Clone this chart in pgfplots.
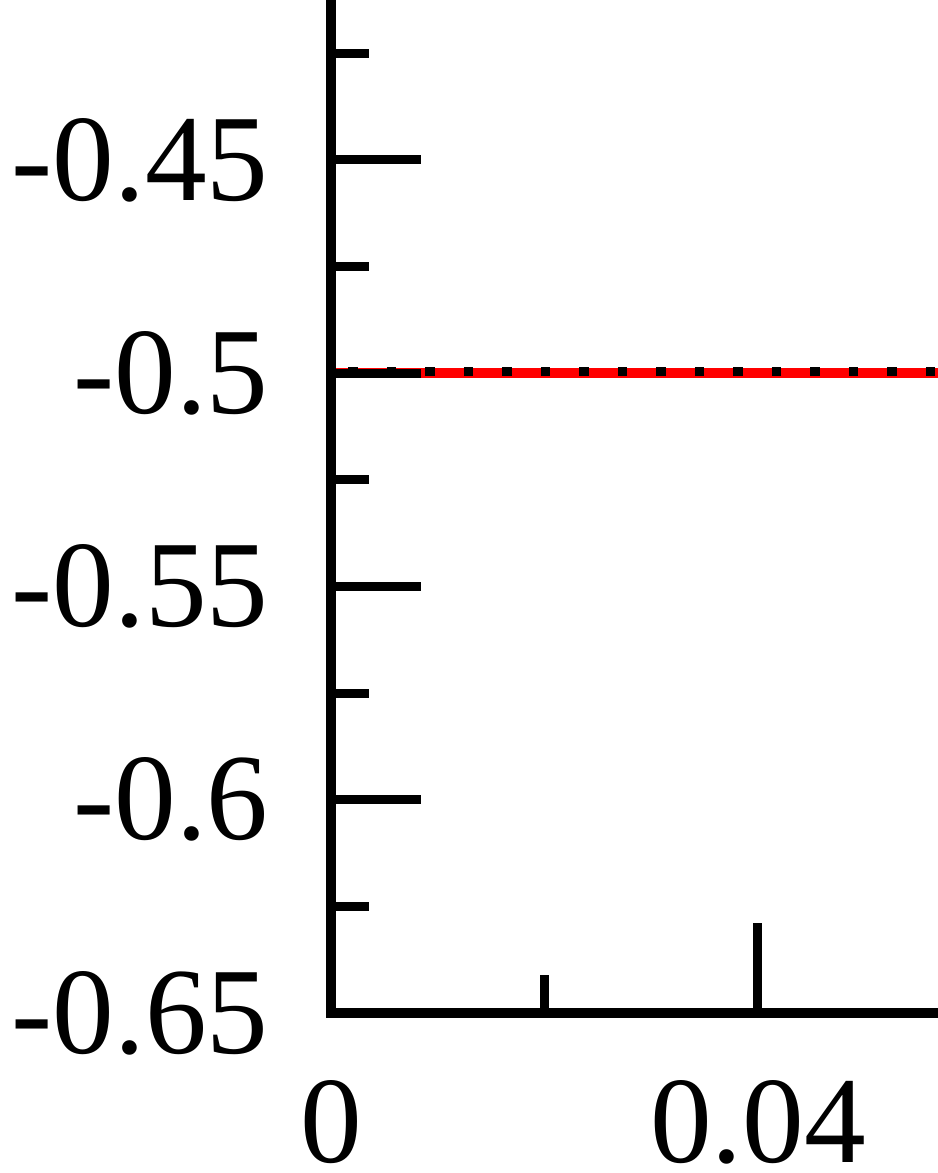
\documentclass[border=0pt]{standalone}
\usepackage{pgfplots}
\pgfplotsset{compat=1.18}
\usepackage{fontspec}
\setmainfont{Liberation Serif}
\begin{document}
\begin{tikzpicture}
\begin{axis}[
  at={(0,0)}, anchor=south west,
  scale only axis,
  width=256.2pt, height=319.9pt,
  xmin=0, xmax=0.08, ymin=-0.65, ymax=-0.4,
  axis on top,
  tick pos=left,
  tick align=inside,
  axis line style={line width=3pt},
  every tick/.style={black, line width=2.7pt},
  major tick length=27pt,
  minor tick length=11.4pt,
  xtick={0,0.04}, xticklabels={0,0.04},
  minor xtick={0.02,0.06},
  ytick={-0.65,-0.6,-0.55,-0.5,-0.45},
  yticklabels={-0.65,-0.6,-0.55,-0.5,-0.45},
  minor ytick={-0.625,-0.575,-0.525,-0.475,-0.425},
  ticklabel style={font=\fontsize{37}{39}\selectfont, inner sep=0pt},
  yticklabel style={anchor=east, xshift=-18.5pt},
  xticklabel style={anchor=north, yshift=-20pt},
]
\addplot[red, line width=3pt] coordinates {(0,-0.5) (0.08,-0.5)};
\addplot[black, line width=2.8pt, dash pattern=on 2.8pt off 8.75pt, dash phase=6.3pt] coordinates {(0,-0.4996) (0.08,-0.4996)};
\end{axis}
\pgfresetboundingbox
\useasboundingbox (-99.3pt,-48pt) rectangle (182.1pt,303.9pt);
\end{tikzpicture}
\end{document}
